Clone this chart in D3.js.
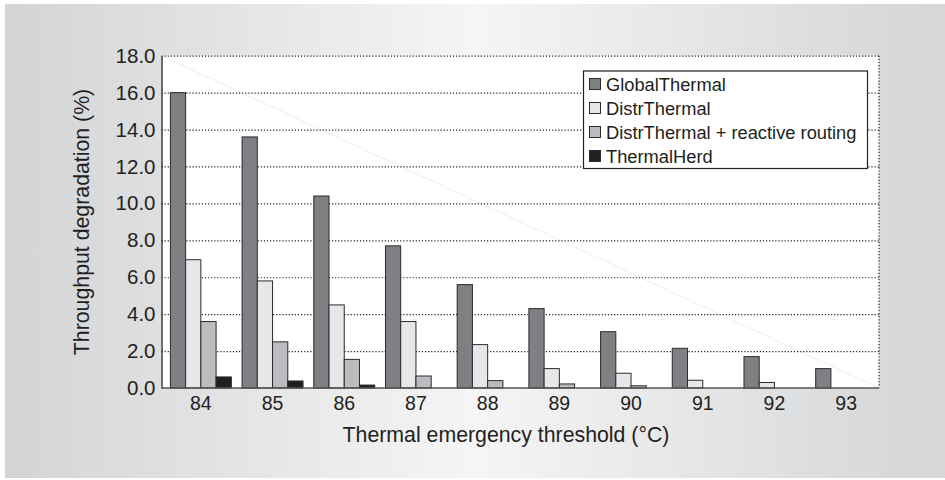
<!DOCTYPE html>
<html>
<head>
<meta charset="utf-8">
<script src="https://cdn.jsdelivr.net/npm/d3@7"></script>
<style>
  body { margin: 0; background: #fff; }
  svg { display: block; font-family: "Liberation Sans", Arial, sans-serif; }
</style>
</head>
<body>
<svg id="chart" width="945" height="480"></svg>
<script>
// data
var thresholds = ["84", "85", "86", "87", "88", "89", "90", "91", "92", "93"];
var seriesNames = ["GlobalThermal", "DistrThermal", "DistrThermal + reactive routing", "ThermalHerd"];
var globalThermal = [16.0, 13.6, 10.4, 7.7, 5.6, 4.3, 3.05, 2.15, 1.7, 1.05];
var distrThermal = [6.95, 5.8, 4.5, 3.6, 2.35, 1.05, 0.8, 0.42, 0.3, 0];
var distrReactive = [3.6, 2.5, 1.55, 0.65, 0.4, 0.22, 0.12, 0, 0, 0];
var thermalHerd = [0.6, 0.38, 0.16, 0, 0, 0, 0, 0, 0, 0];
var yTicks = [0, 2, 4, 6, 8, 10, 12, 14, 16, 18];

var colors = ["#7f8084", "#e6e7e9", "#bbbcc0", "#231f20"];
var allSeries = [globalThermal, distrThermal, distrReactive, thermalHerd];

var svg = d3.select("#chart"),
  width = +svg.attr("width"),
  height = +svg.attr("height");

// plot box
var pLeft = 161.5, pRight = 879, pTop = 55.7, pBottom = 388;

// background gradient
var defs = svg.append("defs");
var grad = defs.append("linearGradient").attr("id", "bg")
  .attr("x1", "0%").attr("x2", "100%").attr("y1", "0%").attr("y2", "0%");
grad.append("stop").attr("offset", "0%").attr("stop-color", "#d3d4d6");
grad.append("stop").attr("offset", "50%").attr("stop-color", "#f5f5f5");
grad.append("stop").attr("offset", "93%").attr("stop-color", "#d8d9db");
grad.append("stop").attr("offset", "100%").attr("stop-color", "#d6d7d9");

svg.append("rect").attr("x", 5).attr("y", 4).attr("width", width - 5).attr("height", height - 6)
  .attr("fill", "url(#bg)");

svg.append("rect").attr("x", pLeft).attr("y", pTop)
  .attr("width", pRight - pLeft).attr("height", pBottom - pTop).attr("fill", "#fff");

// scales
var x0 = d3.scaleBand().domain(thresholds)
  .range([pLeft + 3.5, pLeft + 3.5 + 717]).paddingInner(0.15).paddingOuter(0.075);
var x1 = d3.scaleBand().domain(d3.range(seriesNames.length))
  .range([0, x0.bandwidth()]);
var y = d3.scaleLinear().domain([0, 18]).range([pBottom, pTop]);

// faint diagonal line (scan artefact in the original)
svg.append("line").attr("x1", pLeft).attr("y1", pTop).attr("x2", pRight).attr("y2", pBottom)
  .attr("stroke", "#ededee").attr("stroke-width", 1);

// dotted grid
svg.append("g").selectAll("line")
  .data(yTicks.slice(1))
  .enter().append("line")
    .attr("x1", pLeft).attr("x2", pRight)
    .attr("y1", function(d) { return y(d) + 0.5; })
    .attr("y2", function(d) { return y(d) + 0.5; })
    .attr("stroke", "#222")
    .attr("stroke-width", 1.2)
    .attr("stroke-dasharray", "1.2,1.9");

svg.append("line").attr("x1", pRight).attr("x2", pRight).attr("y1", pTop).attr("y2", pBottom)
  .attr("stroke", "#222").attr("stroke-width", 1.2).attr("stroke-dasharray", "1.2,1.9");

// bars
var groups = svg.append("g").selectAll("g")
  .data(thresholds)
  .enter().append("g")
    .attr("transform", function(d) { return "translate(" + x0(d) + ",0)"; });

groups.selectAll("rect")
  .data(function(d, i) {
    return allSeries.map(function(s, k) { return { k: k, v: s[i] }; }).filter(function(e) { return e.v > 0; });
  })
  .enter().append("rect")
    .attr("x", function(d) { return x1(d.k); })
    .attr("y", function(d) { return y(d.v); })
    .attr("width", x1.bandwidth())
    .attr("height", function(d) { return y(0) - y(d.v); })
    .attr("fill", function(d) { return colors[d.k]; })
    .attr("stroke", "#2b2b2b")
    .attr("stroke-width", 1);

// axes
var yAxis = svg.append("g")
  .attr("transform", "translate(" + pLeft + ",0)")
  .call(d3.axisLeft(y).tickValues(yTicks).tickFormat(d3.format(".1f")).tickSize(0).tickPadding(6));
yAxis.select(".domain").attr("stroke", "#333").attr("stroke-width", 1.4);
yAxis.selectAll("text").attr("font-size", 20.5).attr("fill", "#231f20")
  .attr("font-family", "Liberation Sans, Arial, sans-serif");

var xAxis = svg.append("g")
  .attr("transform", "translate(0," + pBottom + ")")
  .call(d3.axisBottom(x0).tickSize(0).tickPadding(8));
xAxis.select(".domain").attr("d", "M" + pLeft + ",0H" + pRight)
  .attr("stroke", "#555").attr("stroke-width", 1.6);
xAxis.selectAll("text").attr("font-size", 19.5).attr("fill", "#231f20")
  .attr("font-family", "Liberation Sans, Arial, sans-serif");

// axis titles
svg.append("text")
  .attr("x", 506).attr("y", 442)
  .attr("text-anchor", "middle")
  .attr("font-size", 21.3)
  .attr("fill", "#231f20")
  .text("Thermal emergency threshold (\u00B0C)");

svg.append("text")
  .attr("transform", "translate(89,222) rotate(-90)")
  .attr("text-anchor", "middle")
  .attr("font-size", 21.3)
  .attr("fill", "#231f20")
  .text("Throughput degradation (%)");

// legend
var legend = svg.append("g").attr("transform", "translate(583.5,71)");
legend.append("rect").attr("width", 284).attr("height", 97.5)
  .attr("fill", "#fff").attr("stroke", "#222").attr("stroke-width", 1.2);

var items = legend.selectAll(".item")
  .data(seriesNames)
  .enter().append("g")
    .attr("class", "item")
    .attr("transform", function(d, i) { return "translate(6," + (13 + i * 24) + ")"; });

items.append("rect")
  .attr("x", 0).attr("y", -5.5).attr("width", 11).attr("height", 11)
  .attr("fill", function(d, i) { return colors[i]; })
  .attr("stroke", "#2b2b2b").attr("stroke-width", 1);

items.append("text")
  .attr("x", 16.5).attr("y", 6.5)
  .attr("font-size", 18.3)
  .attr("fill", "#231f20")
  .text(function(d) { return d; });
</script>
</body>
</html>
